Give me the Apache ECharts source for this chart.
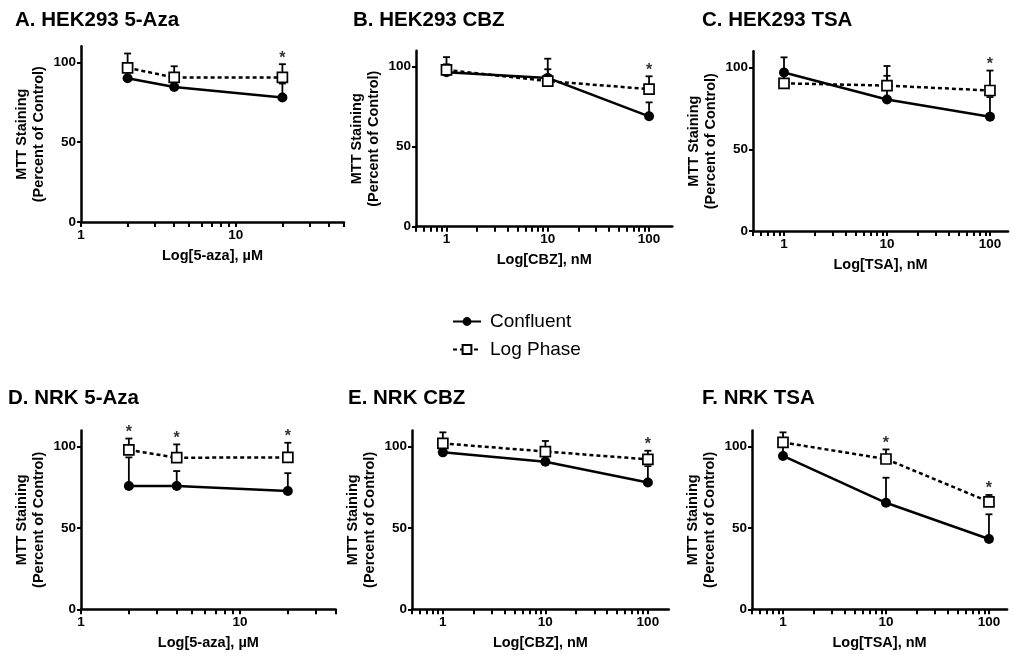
<!DOCTYPE html>
<html><head><meta charset="utf-8">
<script src="https://cdn.jsdelivr.net/npm/echarts@6/dist/echarts.min.js"></script>
<style>html,body{margin:0;padding:0;background:#fff;} #c{width:1014px;height:661px;}</style>
</head><body><div id="c"></div>
<script>
// ---------- data ----------
const panelTitles = ['A. HEK293 5-Aza', 'B. HEK293 CBZ', 'C. HEK293 TSA', 'D. NRK 5-Aza', 'E. NRK CBZ', 'F. NRK TSA'];
const xAxisNames = ['Log[5-aza], µM', 'Log[CBZ], nM', 'Log[TSA], nM', 'Log[5-aza], µM', 'Log[CBZ], nM', 'Log[TSA], nM'];
const yAxisName = 'MTT Staining\n(Percent of Control)';
const yTickLabels = [0, 50, 100];
const seriesNames = ['Confluent', 'Log Phase'];

const azaDoses = [2, 4, 20];
const cbzDoses = [1, 10, 100];
const tsaDoses = [1, 10, 100];

// A. HEK293 5-Aza
const aConfluent = [90, 84.5, 78];
const aConfluentErr = [6, 5, 8.7];
const aLogPhase = [96.5, 90.5, 90.5];
const aLogPhaseErr = [9, 7, 8.3];
const aStars = [20];
// B. HEK293 CBZ
const bConfluent = [96.5, 93, 69];
const bConfluentErr = [5, 12, 8.7];
const bLogPhase = [98, 91, 86];
const bLogPhaseErr = [8, 7.4, 8];
const bStars = [100];
// C. HEK293 TSA
const cConfluent = [97, 80.5, 70];
const cConfluentErr = [9.3, 14.5, 12];
const cLogPhase = [90.4, 89, 86];
const cLogPhaseErr = [5, 12, 12.2];
const cStars = [100];
// D. NRK 5-Aza
const dConfluent = [75.8, 75.8, 72.7];
const dConfluentErr = [17.6, 9.2, 11];
const dLogPhase = [98, 93.2, 93.4];
const dLogPhaseErr = [7, 8.2, 9];
const dStars = [2, 4, 20];
// E. NRK CBZ
const eConfluent = [96.5, 90.7, 78];
const eConfluentErr = [5, 5, 10];
const eLogPhase = [102, 97, 92.2];
const eLogPhaseErr = [6.8, 6.5, 5.3];
const eStars = [100];
// F. NRK TSA
const fConfluent = [94.3, 65.5, 43.2];
const fConfluentErr = [6, 15.4, 15.2];
const fLogPhase = [102.6, 92.4, 66.1];
const fLogPhaseErr = [6.2, 5.9, 4.2];
const fStars = [10, 100];

const panels = [
  {doses: azaDoses, conf: aConfluent, confErr: aConfluentErr, log: aLogPhase, logErr: aLogPhaseErr, stars: aStars, labels: [1, 10]},
  {doses: cbzDoses, conf: bConfluent, confErr: bConfluentErr, log: bLogPhase, logErr: bLogPhaseErr, stars: bStars, labels: [1, 10, 100]},
  {doses: tsaDoses, conf: cConfluent, confErr: cConfluentErr, log: cLogPhase, logErr: cLogPhaseErr, stars: cStars, labels: [1, 10, 100]},
  {doses: azaDoses, conf: dConfluent, confErr: dConfluentErr, log: dLogPhase, logErr: dLogPhaseErr, stars: dStars, labels: [1, 10]},
  {doses: cbzDoses, conf: eConfluent, confErr: eConfluentErr, log: eLogPhase, logErr: eLogPhaseErr, stars: eStars, labels: [1, 10, 100]},
  {doses: tsaDoses, conf: fConfluent, confErr: fConfluentErr, log: fLogPhase, logErr: fLogPhaseErr, stars: fStars, labels: [1, 10, 100]}
];

// ---------- layout ----------
const layout = [
  {left: 81,  top: 46.3,  width: 263,   height: 175.7, xmin: 1,   xmax: 50,  tl: 15,  tt: 10},
  {left: 416, top: 50.7,  width: 256.4, height: 176,   xmin: 0.5, xmax: 170, tl: 353, tt: 10},
  {left: 753, top: 51.3,  width: 255.1, height: 179.7, xmin: 0.5, xmax: 150, tl: 702, tt: 10},
  {left: 81,  top: 430.4, width: 254.7, height: 178.9, xmin: 1,   xmax: 40,  tl: 8,   tt: 388},
  {left: 412, top: 430.4, width: 256.8, height: 178.9, xmin: 0.5, xmax: 160, tl: 348, tt: 388},
  {left: 752, top: 430.4, width: 255.1, height: 178.9, xmin: 0.5, xmax: 150, tl: 702, tt: 388}
];

const FONT = '"Liberation Sans", Arial, Helvetica, sans-serif';
const lg = v => Math.log10(v);

function logTicks(min, max) {
  const out = [];
  for (let e = -1; e <= 3; e++) {
    for (let k = 1; k <= 9; k++) {
      const v = k * Math.pow(10, e);
      if (v >= min - 1e-9 && v <= max + 1e-9) out.push(lg(v));
    }
  }
  return out;
}

function renderErr(params, api) {
  const x = api.value(0), y = api.value(1), up = api.value(2);
  const p0 = api.coord([x, y]);
  const p1 = api.coord([x, up]);
  const hw = 3.5;
  const st = {stroke: '#000', lineWidth: 1.8};
  return {type: 'group', children: [
    {type: 'line', shape: {x1: p0[0], y1: p0[1], x2: p1[0], y2: p1[1]}, style: st},
    {type: 'line', shape: {x1: p1[0] - hw, y1: p1[1], x2: p1[0] + hw, y2: p1[1]}, style: st}
  ]};
}

function renderStar(params, api) {
  const p = api.coord([api.value(0), api.value(1)]);
  return {type: 'text', x: p[0], y: p[1] - 6,
    style: {text: '*', fontSize: 16, fontWeight: 'bold', fill: '#333', align: 'center', verticalAlign: 'middle', fontFamily: FONT}};
}

const grids = [], xAxes = [], yAxes = [], titles = [], series = [];
panels.forEach((p, i) => {
  const L = layout[i];
  grids.push({left: L.left, top: L.top, width: L.width, height: L.height, containLabel: false});
  titles.push({text: panelTitles[i], left: L.tl, top: L.tt, padding: 0,
    textStyle: {fontSize: 20.5, fontWeight: 'bold', color: '#000', fontFamily: FONT}});
  xAxes.push({
    type: 'value', gridIndex: i, min: lg(L.xmin), max: lg(L.xmax),
    name: xAxisNames[i], nameLocation: 'middle', nameGap: 26,
    nameTextStyle: {fontSize: 14.5, fontWeight: 'bold', color: '#000', fontFamily: FONT},
    axisLine: {show: true, onZero: false, lineStyle: {color: '#000', width: 2.5}},
    axisTick: {show: true, length: 5, customValues: logTicks(L.xmin, L.xmax), lineStyle: {color: '#000', width: 2}},
    axisLabel: {customValues: p.labels.map(lg), formatter: v => String(Math.round(Math.pow(10, v))),
      fontSize: 13.5, fontWeight: 'bold', color: '#000', margin: 6, fontFamily: FONT},
    splitLine: {show: false}
  });
  yAxes.push({
    type: 'value', gridIndex: i, min: 0, max: 110,
    name: yAxisName, nameLocation: 'middle', nameGap: 34,
    nameTextStyle: {fontSize: 14.5, fontWeight: 'bold', color: '#000', lineHeight: 17, fontFamily: FONT},
    axisLine: {show: true, onZero: false, lineStyle: {color: '#000', width: 2.5}},
    axisTick: {show: true, length: 4, customValues: yTickLabels, lineStyle: {color: '#000', width: 2}},
    axisLabel: {customValues: yTickLabels, fontSize: 13.5, fontWeight: 'bold', color: '#000', margin: 5, fontFamily: FONT},
    splitLine: {show: false}
  });
  const errData = [];
  p.doses.forEach((d, j) => {
    errData.push([lg(d), p.conf[j], p.conf[j] + p.confErr[j]]);
    errData.push([lg(d), p.log[j], p.log[j] + p.logErr[j]]);
  });
  series.push({type: 'custom', name: 'errorbars', xAxisIndex: i, yAxisIndex: i, renderItem: renderErr,
    data: errData, z: 2, silent: true});
  series.push({type: 'line', name: seriesNames[0], xAxisIndex: i, yAxisIndex: i,
    data: p.doses.map((d, j) => [lg(d), p.conf[j]]),
    symbol: 'circle', symbolSize: 10, itemStyle: {color: '#000'},
    lineStyle: {color: '#000', width: 2.5}, z: 3, silent: true});
  series.push({type: 'line', name: seriesNames[1], xAxisIndex: i, yAxisIndex: i,
    data: p.doses.map((d, j) => [lg(d), p.log[j]]),
    symbol: 'rect', symbolSize: 10, itemStyle: {color: '#fff', borderColor: '#000', borderWidth: 1.7},
    lineStyle: {color: '#000', width: 2.5, type: [4, 3]}, z: 4, silent: true});
  const starData = p.stars.map(s => {
    const j = p.doses.indexOf(s);
    return [lg(s), Math.max(p.conf[j] + p.confErr[j], p.log[j] + p.logErr[j])];
  });
  series.push({type: 'custom', name: 'stars', xAxisIndex: i, yAxisIndex: i, renderItem: renderStar,
    data: starData, z: 5, silent: true});
});

const chart = echarts.init(document.getElementById('c'), null, {renderer: 'canvas'});
chart.setOption({
  animation: false,
  backgroundColor: '#fff',
  title: titles,
  grid: grids,
  xAxis: xAxes,
  yAxis: yAxes,
  legend: {
    data: seriesNames, orient: 'vertical', left: 447, top: 307,
    itemWidth: 28, itemHeight: 11, itemGap: 9,
    textStyle: {fontSize: 19, color: '#000', fontFamily: FONT, lineHeight: 19, padding: [0, 0, 0, 4]}
  },
  series: series
});
</script>
</body></html>
